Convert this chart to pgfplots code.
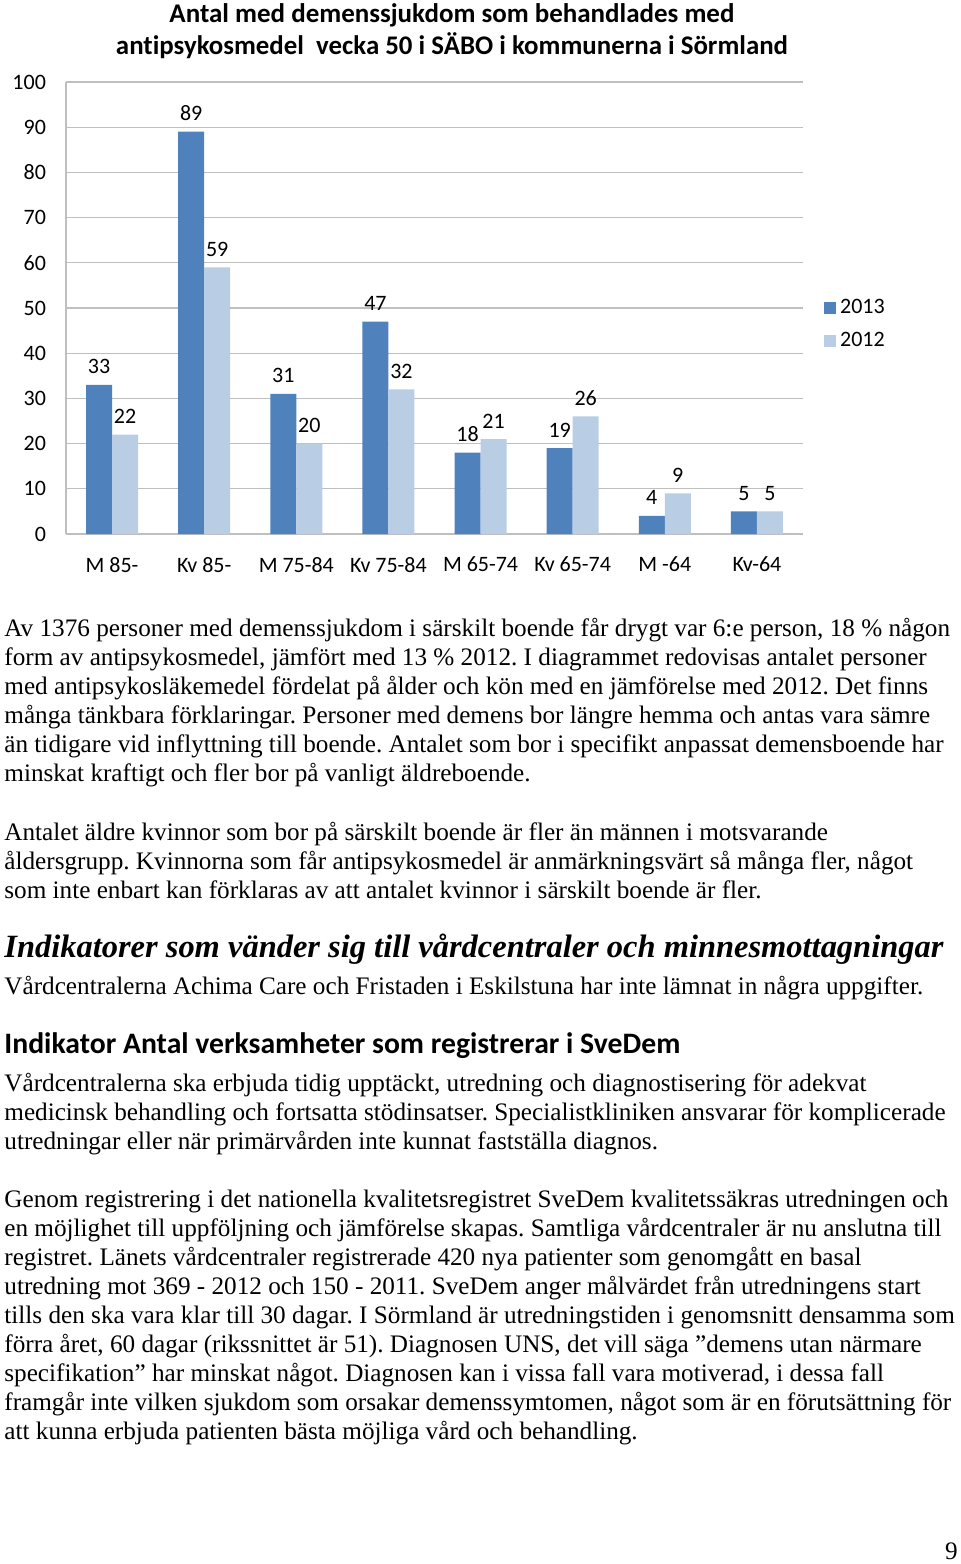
\documentclass[border=0pt]{standalone}
\usepackage{pgfplots}
\pgfplotsset{compat=1.18}
\usepackage{fontspec}
\setmainfont{Liberation Serif}
\newfontfamily\calibri[Ligatures=NoCommon]{Carlito}
\definecolor{b13}{HTML}{4F81BD}
\definecolor{b12}{HTML}{B9CDE5}
\newcommand{\cf}{\calibri\fontsize{11}{13}\selectfont}
\frenchspacing
\begin{document}
\begin{tikzpicture}
\useasboundingbox (0,0) rectangle (480pt,-782pt);
\begin{axis}[at={(33pt,-267pt)}, anchor=south west, scale only axis,
  width=368.5pt, height=226pt,
  ybar=0pt, bar width=13pt,
  xmin=-0.5, xmax=7.5, ymin=0, ymax=100,
  xtick={0,...,7},
  xticklabels={M 85-, Kv 85-, M 75-84, Kv 75-84, M 65-74, Kv 65-74, M -64, Kv-64},
  ytick={0,10,...,100},
  ymajorgrids, grid style={gray!50, line width=0.6pt},
  axis x line*=bottom, axis y line*=left,
  axis line style={gray!50, line width=0.6pt, -},
  major tick length=0pt,
  tick label style={font=\cf},
  /pgf/number format/assume math mode=true,
  yticklabel style={xshift=-6.5pt},
  xticklabel style={yshift=-8pt},
  nodes near coords,
  every node near coord/.append style={font=\cf, text=black, yshift=2pt},
  legend style={at={(1.02,0.538)}, anchor=north west, draw=none, font=\cf, row sep=4pt},
  legend cell align=left,
  legend image code/.code={\fill[#1] (0pt,-3pt) rectangle (6pt,3pt);},
]
\addplot[fill=b13, draw=none] coordinates {(0,33)(1,89)(2,31)(3,47)(4,18)(5,19)(6,4)(7,5)};
\addplot[fill=b12, draw=none] coordinates {(0,22)(1,59)(2,20)(3,32)(4,21)(5,26)(6,9)(7,5)};
\legend{2013,2012}
\end{axis}
\begin{scope}[x=0.5pt, y=-0.5pt]
\node[anchor=base, inner sep=0] at (452,22) {\calibri\bfseries\resizebox{282.5pt}{!}{Antal med demenssjukdom som behandlades med}};
\node[anchor=base, inner sep=0] at (452,54) {\calibri\bfseries\resizebox{336pt}{!}{antipsykosmedel\ \ vecka 50 i SÄBO i kommunerna i Sörmland}};
\begin{scope}[every node/.style={anchor=base west, inner sep=0, font=\fontsize{12.6}{14}\selectfont}]
\node at (4,636) {Av 1376 personer med demenssjukdom i särskilt boende får drygt var 6:e person, 18 \% någon};
\node at (4,665) {form av antipsykosmedel, jämfört med 13 \% 2012. I diagrammet redovisas antalet personer};
\node at (4,694) {med antipsykosläkemedel fördelat på ålder och kön med en jämförelse med 2012. Det finns};
\node at (4,723) {många tänkbara förklaringar. Personer med demens bor längre hemma och antas vara sämre};
\node at (4,752) {än tidigare vid inflyttning till boende. Antalet som bor i specifikt anpassat demensboende har};
\node at (4,781) {minskat kraftigt och fler bor på vanligt äldreboende.};
\node at (4,840) {Antalet äldre kvinnor som bor på särskilt boende är fler än männen i motsvarande};
\node at (4,869) {åldersgrupp. Kvinnorna som får antipsykosmedel är anmärkningsvärt så många fler, något};
\node at (4,898) {som inte enbart kan förklaras av att antalet kvinnor i särskilt boende är fler.};
\node at (4,957) {\bfseries\itshape\resizebox{469.5pt}{!}{Indikatorer som vänder sig till vårdcentraler och minnesmottagningar}};
\node at (4,994) {Vårdcentralerna Achima Care och Fristaden i Eskilstuna har inte lämnat in några uppgifter.};
\node at (4,1053) {\calibri\bfseries\resizebox{338pt}{!}{Indikator Antal verksamheter som registrerar i SveDem}};
\node at (4,1091) {Vårdcentralerna ska erbjuda tidig upptäckt, utredning och diagnostisering för adekvat};
\node at (4,1120) {medicinsk behandling och fortsatta stödinsatser. Specialistkliniken ansvarar för komplicerade};
\node at (4,1149) {utredningar eller när primärvården inte kunnat fastställa diagnos.};
\node at (4,1207) {Genom registrering i det nationella kvalitetsregistret SveDem kvalitetssäkras utredningen och};
\node at (4,1236) {en möjlighet till uppföljning och jämförelse skapas. Samtliga vårdcentraler är nu anslutna till};
\node at (4,1265) {registret. Länets vårdcentraler registrerade 420 nya patienter som genomgått en basal};
\node at (4,1294) {utredning mot 369 - 2012 och 150 - 2011. SveDem anger målvärdet från utredningens start};
\node at (4,1323) {tills den ska vara klar till 30 dagar. I Sörmland är utredningstiden i genomsnitt densamma som};
\node at (4,1352) {förra året, 60 dagar (rikssnittet är 51). Diagnosen UNS, det vill säga ”demens utan närmare};
\node at (4,1381) {specifikation” har minskat något. Diagnosen kan i vissa fall vara motiverad, i dessa fall};
\node at (4,1410) {framgår inte vilken sjukdom som orsakar demenssymtomen, något som är en förutsättning för};
\node at (4,1439) {att kunna erbjuda patienten bästa möjliga vård och behandling.};
\end{scope}
\node[anchor=base east, inner sep=0, font=\fontsize{12.6}{14}\selectfont] at (958,1559) {9};
\end{scope}
\end{tikzpicture}
\end{document}
